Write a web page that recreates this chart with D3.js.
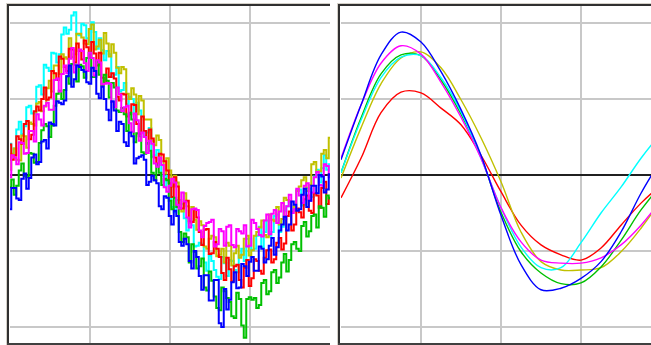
<!DOCTYPE html>
<html>
<head>
<meta charset="utf-8">
<script src="https://cdn.jsdelivr.net/npm/d3@7"></script>
<style>
  html, body { margin: 0; padding: 0; background: #fff; }
  svg { display: block; }
</style>
</head>
<body>
<svg id="chart" width="651" height="345"></svg>
<script>
// raw traces, one sample every 2.5 time units (0..320)
const rawRed = [
  40,20,26,51,47,41,67,71,47,53,84,90,85,100,115,99,102,137,134,125,156,153,142,137,166,165,148,173,163,152,177,168,
  154,175,160,144,161,128,121,140,129,134,127,103,98,107,106,77,80,93,92,67,54,77,58,41,60,48,23,15,28,27,18,6,
  -11,-29,-3,-15,-44,-44,-36,-34,-61,-62,-45,-56,-75,-92,-72,-71,-104,-103,-88,-97,-108,-129,-138,-109,-124,-140,-120,-118,
  -138,-148,-122,-112,-146,-136,-111,-113,-126,-130,-109,-99,-98,-115,-111,-89,-83,-98,-90,-54,-48,-73,-65,-44,-49,-56,-32,-27,
  -47,-50,-24,-27,-43,-17,-9,-38,-30];
const rawBlue = [
  -45,-17,-17,-31,-33,-5,2,-18,-4,23,27,14,17,44,46,35,69,67,65,97,95,93,98,130,144,116,126,144,142,138,136,122,
  120,141,137,107,101,116,100,86,72,97,85,58,70,67,43,38,56,51,15,22,24,26,20,-13,-9,-1,-7,-11,-41,-45,-28,-30,
  -54,-65,-47,-54,-88,-93,-84,-91,-113,-123,-100,-108,-133,-151,-132,-132,-165,-165,-138,-138,-195,-200,-150,-177,-164,-141,-128,-149,
  -148,-117,-120,-133,-114,-108,-126,-126,-94,-97,-115,-111,-93,-83,-105,-95,-73,-65,-55,-73,-65,-35,-39,-47,-45,-26,-18,-42,
  -34,-14,-14,-24,0,-2,-23,-19,1];
const rawMagenta = [
  -3,26,23,14,43,42,28,29,58,58,44,80,73,65,91,95,86,86,125,127,110,133,144,134,153,167,135,145,165,163,147,137,
  161,154,131,151,148,119,120,121,120,96,89,115,106,84,89,91,68,57,81,72,45,56,50,29,45,41,15,11,23,13,-16,-22,
  -14,-5,-10,-39,-44,-23,-35,-56,-69,-45,-44,-46,-73,-82,-67,-63,-62,-59,-94,-91,-71,-74,-93,-68,-66,-92,-95,-71,
  -74,-77,-66,-94,-93,-59,-63,-71,-79,-81,-60,-52,-78,-51,-46,-63,-48,-37,-58,-41,-26,-50,-45,-18,-27,-37,-14,-11,
  -34,-23,-3,4,-13,-14,14,12,-3];
const rawGreen = [
  -16,-6,-26,-14,6,15,-1,-3,29,28,16,17,42,59,67,64,50,65,91,107,111,100,112,130,120,146,145,123,145,143,128,154,
  161,129,129,149,132,118,132,124,102,121,115,85,83,88,80,58,82,73,43,55,51,30,28,42,32,3,-7,13,3,-13,-5,-7,
  -34,-45,-30,-42,-75,-88,-77,-82,-115,-91,-101,-123,-120,-110,-148,-152,-127,-139,-160,-175,-178,-148,-153,-162,-167,-186,-188,-155,
  -163,-198,-214,-163,-161,-164,-162,-175,-171,-142,-138,-157,-153,-128,-125,-142,-135,-115,-104,-127,-112,-91,-88,-97,-100,-67,-62,-81,
  -74,-54,-52,-69,-41,-43,-55,-27,-31];
const rawCyan = [
  41,27,35,60,70,54,64,89,91,81,82,116,118,106,145,141,137,161,160,148,159,185,194,186,191,210,214,185,184,199,197,180,
  175,201,188,166,180,164,151,163,159,129,132,142,110,112,121,93,103,100,72,95,85,56,51,56,62,24,26,33,19,-1,-15,-1,
  -10,-42,-49,-33,-38,-38,-57,-73,-58,-66,-94,-93,-89,-91,-115,-126,-106,-113,-125,-134,-137,-108,-116,-133,-112,-113,-125,-128,
  -106,-97,-113,-84,-84,-99,-97,-80,-68,-95,-75,-60,-80,-75,-54,-52,-75,-68,-47,-41,-36,-47,-44,-20,-19,-40,-39,-17,
  -18,-29,-2,7,-10,9,26,7,14];
const rawOlive = [
  7,28,35,20,19,52,51,36,69,67,65,94,96,84,90,114,124,110,144,144,133,159,155,153,180,155,159,186,186,181,173,172,
  192,198,165,169,178,160,187,173,156,172,161,141,134,142,139,107,100,114,106,80,104,98,73,73,73,45,39,52,46,18,2,22,
  6,-15,-1,-10,-33,-48,-24,-41,-63,-42,-59,-72,-61,-66,-94,-97,-84,-80,-82,-107,-105,-97,-115,-89,-93,-119,-103,-93,
  -109,-105,-84,-80,-106,-99,-80,-75,-69,-60,-79,-82,-52,-59,-61,-42,-65,-58,-30,-33,-35,-49,-41,-21,-15,-7,-3,-21,
  -13,14,17,4,5,28,33,22,49];

// filtered traces, one sample every 20 time units (0..320)
const fitRed     = [-30,22,82,109,108,88,66,26,-22,-66,-92,-105,-112,-96,-66,-37,-13];
const fitBlue    = [20,92,158,188,175,136,86,26,-53,-118,-151,-149,-136,-114,-75,-24,20];
const fitMagenta = [22,92,147,170,159,122,76,22,-43,-88,-112,-116,-116,-109,-92,-66,-33];
const fitGreen   = [3,75,133,158,157,125,80,24,-49,-101,-129,-143,-142,-121,-86,-46,-13];
const fitCyan    = [3,72,128,155,157,128,83,22,-43,-95,-122,-122,-89,-50,-16,22,55];
const fitOlive   = [-4,62,120,154,162,141,99,49,-9,-75,-114,-125,-125,-122,-101,-70,-33];

const rawStep = 2.5, fitStep = 20;
const timeTicks = [80, 160, 240];
const valueTicks = [-200, -100, 100, 200];

const colors = { red: '#ff0000', blue: '#0000ff', magenta: '#ff00ff', green: '#00c000', cyan: '#00ffff', olive: '#c0c000' };

const rawSeries = [
  { c: colors.cyan, v: rawCyan },
  { c: colors.olive, v: rawOlive },
  { c: colors.red, v: rawRed },
  { c: colors.green, v: rawGreen },
  { c: colors.magenta, v: rawMagenta },
  { c: colors.blue, v: rawBlue }
];
const fitSeries = [
  { c: colors.red, v: fitRed },
  { c: colors.olive, v: fitOlive },
  { c: colors.green, v: fitGreen },
  { c: colors.cyan, v: fitCyan },
  { c: colors.magenta, v: fitMagenta },
  { c: colors.blue, v: fitBlue }
];

const svg = d3.select('#chart');
const plotTop = 5, plotBottom = 343;

const y = d3.scaleLinear().domain([-200, 200]).range([327, 23]);

function panel(id, x0, x1, series, step, curve, width) {
  const x = d3.scaleLinear().domain([0, 320]).range([x0, x0 + 320]);
  const clipW = Math.min(x1, 651) - x0;

  svg.append('clipPath').attr('id', id)
    .append('rect').attr('x', x0).attr('y', plotTop).attr('width', clipW).attr('height', plotBottom - plotTop);

  const g = svg.append('g').attr('clip-path', `url(#${id})`);

  g.selectAll('.vgrid').data(timeTicks).enter().append('line')
    .attr('x1', d => x(d)).attr('x2', d => x(d))
    .attr('y1', plotTop).attr('y2', plotBottom)
    .attr('stroke', '#c8c8c8').attr('stroke-width', 2);

  g.selectAll('.hgrid').data(valueTicks).enter().append('line')
    .attr('x1', x0).attr('x2', x0 + 320)
    .attr('y1', d => y(d)).attr('y2', d => y(d))
    .attr('stroke', '#c8c8c8').attr('stroke-width', 2);

  g.append('line')
    .attr('x1', x0).attr('x2', x0 + 320)
    .attr('y1', y(0)).attr('y2', y(0))
    .attr('stroke', '#202020').attr('stroke-width', 2);

  const line = d3.line()
    .x((d, i) => x(i * step))
    .y(d => y(d))
    .curve(curve);

  g.selectAll('.trace').data(series).enter().append('path')
    .attr('d', d => line(d.v))
    .attr('fill', 'none')
    .attr('stroke', d => d.c)
    .attr('stroke-width', width);

  // sunken frame: light outer edge, dark top/left, dark bottom
  svg.append('line').attr('x1', x0 - 3.5).attr('x2', x0 - 3.5).attr('y1', 3).attr('y2', 345)
    .attr('stroke', '#d4d0c8').attr('stroke-width', 1);
  svg.append('line').attr('x1', x0 - 3.5).attr('x2', x1).attr('y1', 3.5).attr('y2', 3.5)
    .attr('stroke', '#d4d0c8').attr('stroke-width', 1);
  svg.append('line').attr('x1', x0 - 2).attr('x2', x0 - 2).attr('y1', 4).attr('y2', 345)
    .attr('stroke', '#303030').attr('stroke-width', 2);
  svg.append('line').attr('x1', x0 - 3).attr('x2', x1).attr('y1', 5).attr('y2', 5)
    .attr('stroke', '#303030').attr('stroke-width', 2);
  svg.append('line').attr('x1', x0 - 3).attr('x2', x1).attr('y1', 344).attr('y2', 344)
    .attr('stroke', '#404040').attr('stroke-width', 2);
}

panel('clipRaw', 10, 330, rawSeries, rawStep, d3.curveStep, 2);
panel('clipFit', 341, 651, fitSeries, fitStep, d3.curveCatmullRom, 1.4);
</script>
</body>
</html>
